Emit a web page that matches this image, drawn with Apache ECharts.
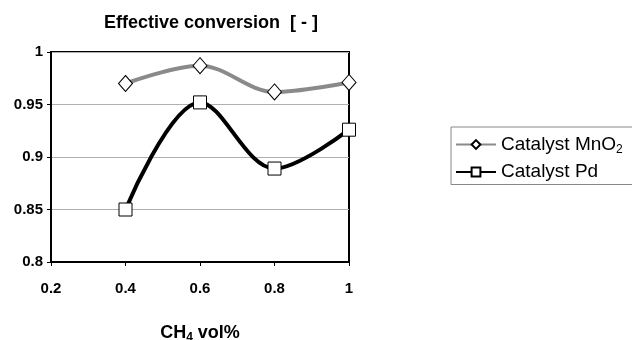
<!DOCTYPE html>
<html>
<head>
<meta charset="utf-8">
<script src="https://cdn.jsdelivr.net/npm/echarts@6/dist/echarts.min.js"></script>
<style>
  html, body { margin: 0; padding: 0; background: #fff; }
  #chart { width: 632px; height: 340px; }
</style>
</head>
<body>
<div id="chart"></div>
<script>
// CH4 concentration (vol%) at which conversion was measured
const ch4 = [0.4, 0.6, 0.8, 1.0];
// Effective conversion for each catalyst
const mno2 = [0.970, 0.987, 0.962, 0.971];
const pd = [0.850, 0.952, 0.889, 0.926];
const xTicks = [0.2, 0.4, 0.6, 0.8, 1];
const yTicks = [0.8, 0.85, 0.9, 0.95, 1];

const font = '"Liberation Sans", Arial, sans-serif';
const chart = echarts.init(document.getElementById('chart'), null, { renderer: 'canvas' });

chart.setOption({
  animation: false,
  backgroundColor: '#fff',
  title: {
    text: 'Effective conversion  [ - ]',
    left: 206,
    textAlign: 'center',
    top: 9,
    textStyle: { fontFamily: font, fontSize: 18, fontWeight: 'bold', color: '#000' }
  },
  grid: {
    left: 51, right: 283, top: 52, bottom: 78,
    outerBoundsMode: 'none',
    containLabel: false,
    show: true, borderColor: '#000', borderWidth: 2, backgroundColor: 'transparent'
  },
  legend: {
    left: 451, top: 127,
    orient: 'vertical',
    itemWidth: 40, itemHeight: 11, itemGap: 7,
    padding: [8, 40, 3, 4],
    borderColor: '#888', borderWidth: 1,
    textStyle: {
      fontFamily: font, fontSize: 19, color: '#000',
      rich: { sub: { fontFamily: font, fontSize: 12, color: '#000', padding: [10, 0, 0, 0] } }
    },
    formatter: function (name) {
      return name === 'MnO2' ? 'Catalyst MnO{sub|2}' : 'Catalyst Pd';
    },
    data: ['MnO2', 'Pd']
  },
  xAxis: {
    type: 'value',
    min: xTicks[0], max: xTicks[xTicks.length - 1], interval: 0.2,
    name: 'CH{sub|4} vol%',
    nameLocation: 'middle', nameGap: 60,
    nameTextStyle: {
      fontFamily: font, fontSize: 18, fontWeight: 'bold', color: '#000',
      rich: { sub: { fontFamily: font, fontSize: 12, fontWeight: 'bold', color: '#000', padding: [10, 0, 0, 0] } }
    },
    axisLine: { lineStyle: { color: '#000', width: 2 } },
    axisTick: { show: true, length: 4, lineStyle: { color: '#000', width: 1 } },
    axisLabel: { fontFamily: font, fontSize: 15, fontWeight: 'bold', color: '#000', margin: 19 },
    splitLine: { show: false }
  },
  yAxis: {
    type: 'value',
    min: yTicks[0], max: yTicks[yTicks.length - 1], interval: 0.05,
    axisLine: { show: true, lineStyle: { color: '#000', width: 2 } },
    axisTick: { show: true, length: 4, lineStyle: { color: '#000', width: 1 } },
    axisLabel: { fontFamily: font, fontSize: 15, fontWeight: 'bold', color: '#000', margin: 8 },
    splitLine: { show: true, lineStyle: { color: '#b0b0b0', width: 1 } }
  },
  series: [
    {
      name: 'MnO2',
      type: 'line',
      data: ch4.map((x, i) => [x, mno2[i]]),
      smooth: 0.35,
      symbol: 'diamond',
      symbolSize: [14, 16],
      lineStyle: { color: '#8a8a8a', width: 4 },
      itemStyle: { color: '#fff', borderColor: '#000', borderWidth: 1 },
      color: '#8a8a8a',
      z: 3
    },
    {
      name: 'Pd',
      type: 'line',
      data: ch4.map((x, i) => [x, pd[i]]),
      smooth: 0.35,
      symbol: 'rect',
      symbolSize: 13,
      lineStyle: { color: '#000', width: 4 },
      itemStyle: { color: '#fff', borderColor: '#000', borderWidth: 1 },
      color: '#000',
      z: 4
    }
  ]
});
</script>
</body>
</html>
